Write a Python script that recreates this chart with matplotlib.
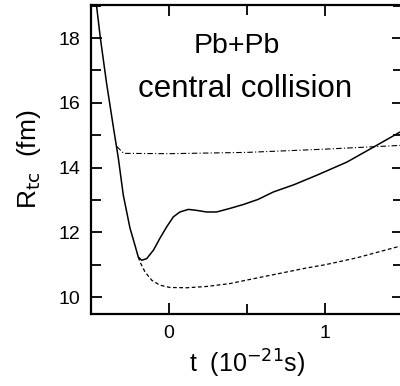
import matplotlib

matplotlib.use("Agg")
import matplotlib.pyplot as plt
from matplotlib.ticker import MultipleLocator, FixedLocator

plt.rcParams["font.family"] = ["Liberation Sans", "DejaVu Sans"]

# solid curve: full calculation
t_solid = [-0.465, -0.44, -0.40, -0.355, -0.325, -0.293, -0.25, -0.218, -0.197,
           -0.175, -0.143, -0.10, -0.058, -0.015, 0.028, 0.07, 0.124, 0.177,
           0.241, 0.305, 0.39, 0.476, 0.572, 0.67, 0.80, 0.95, 1.14, 1.31, 1.5]
r_solid = [19.02, 18.0, 16.6, 15.2, 14.3, 13.15, 12.13, 11.6, 11.24,
           11.14, 11.19, 11.45, 11.82, 12.17, 12.48, 12.63, 12.71, 12.68,
           12.63, 12.63, 12.74, 12.86, 13.02, 13.25, 13.47, 13.77, 14.17,
           14.63, 15.15]

# dashed curve
t_dash = [-0.197, -0.186, -0.154, -0.11, -0.058, 0.006, 0.113, 0.241, 0.39,
          0.572, 0.88, 1.0, 1.2, 1.5]
r_dash = [11.24, 11.09, 10.78, 10.52, 10.37, 10.30, 10.29, 10.33, 10.42,
          10.6, 10.9, 11.0, 11.21, 11.6]

# dash-dot curve
t_dd = [-0.335, -0.29, 0.0, 0.5, 1.0, 1.5]
r_dd = [14.65, 14.44, 14.43, 14.47, 14.57, 14.69]

fig = plt.figure(figsize=(4.0, 3.86), dpi=100)
ax = fig.add_axes([0.2275, 0.1865, 0.78, 0.8005])

ax.plot(t_solid, r_solid, color="black", lw=1.1)
ax.plot(t_dash, r_dash, color="black", lw=0.9, ls=(0, (3, 2)))
ax.plot(t_dd, r_dd, color="black", lw=0.8, ls=(0, (5, 2, 1, 2)))

ax.set_xlim(-0.5, 1.5)
ax.set_ylim(9.48, 19.02)

ax.xaxis.set_major_locator(FixedLocator([0, 1]))
ax.xaxis.set_minor_locator(FixedLocator([-0.5, 0.5, 1.5]))
ax.yaxis.set_major_locator(MultipleLocator(2))
ax.yaxis.set_minor_locator(MultipleLocator(1))
ax.tick_params(which="both", direction="in", top=True, right=True, width=1.3)
ax.tick_params(which="major", length=8, labelsize=14, pad=8)
ax.tick_params(which="minor", length=7)
for s in ax.spines.values():
    s.set_linewidth(1.6)

ax.set_xlabel(r"t  (10$^{-21}$s)", fontsize=18, labelpad=4)
ax.set_ylabel(r"R$_{\rm tc}$  (fm)", fontsize=19, labelpad=11)

ax.text(0.436, 17.75, "Pb+Pb", fontsize=20.5, ha="center", va="center")
ax.text(0.487, 16.43, "central collision", fontsize=22.5, ha="center",
        va="center")

fig.savefig("out.png", dpi=100)
